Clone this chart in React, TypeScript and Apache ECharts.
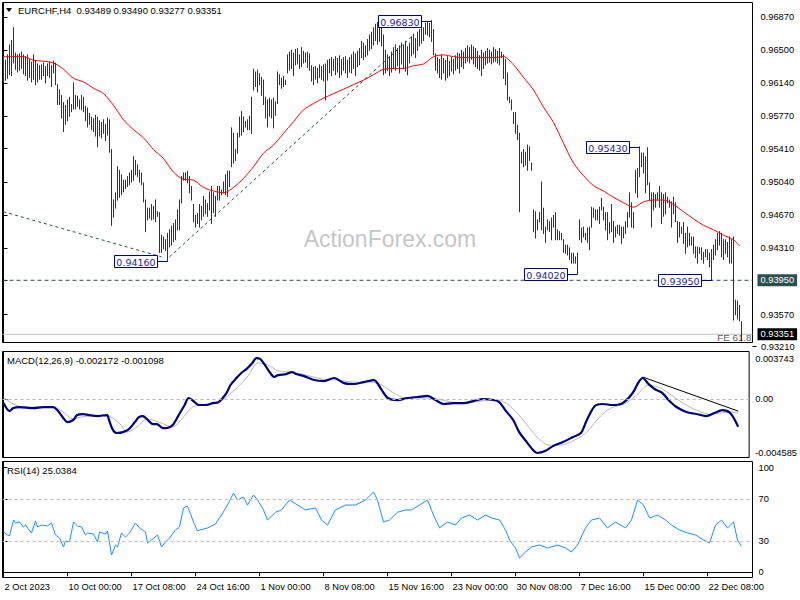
import React, { useEffect, useRef } from 'react';
import * as echarts from 'echarts';

// ---- price bars (pips, 1 pip = 0.0001) : high / low per H4 bar ----
const highs = [
  9643,9639,9645,9656,9661,9675,9647,9645,9646,9648,
  9645,9643,9645,9640,9637,9645,9638,9635,9633,9634,
  9636,9632,9635,9637,9633,9638,9636,9612,9606,9600,
  9592,9589,9595,9598,9590,9614,9600,9599,9595,9600,
  9598,9588,9586,9580,9576,9574,9578,9576,9572,9570,
  9573,9568,9575,9573,9540,9484,9492,9521,9517,9512,
  9506,9506,9510,9514,9517,9532,9528,9523,9517,9514,
  9503,9484,9475,9475,9479,9477,9484,9471,9470,9445,
  9443,9440,9447,9451,9455,9458,9462,9473,9484,9510,
  9514,9514,9516,9510,9499,9479,9467,9469,9479,9477,
  9488,9484,9480,9493,9499,9492,9488,9499,9499,9495,
  9504,9512,9516,9516,9564,9558,9540,9558,9576,9582,
  9576,9571,9573,9577,9598,9629,9626,9628,9624,9620,
  9617,9598,9595,9597,9595,9597,9593,9626,9623,9619,
  9621,9617,9645,9648,9650,9647,9651,9652,9645,9653,
  9649,9647,9648,9646,9633,9631,9632,9630,9634,9632,
  9634,9635,9639,9640,9642,9640,9643,9641,9644,9640,
  9642,9643,9639,9642,9645,9648,9646,9649,9652,9660,
  9658,9655,9662,9667,9670,9675,9679,9681,9678,9676,
  9667,9650,9645,9643,9648,9653,9656,9652,9655,9658,
  9656,9660,9654,9658,9665,9668,9663,9670,9673,9678,
  9675,9680,9682,9680,9683,9673,9646,9642,9640,9645,
  9641,9639,9643,9638,9642,9640,9644,9647,9646,9650,
  9648,9652,9655,9653,9656,9654,9652,9649,9644,9650,
  9647,9649,9652,9650,9648,9653,9651,9649,9652,9648,
  9645,9640,9625,9598,9595,9581,9581,9567,9558,9537,
  9540,9537,9545,9543,9525,9473,9471,9462,9470,9504,
  9475,9454,9462,9460,9464,9467,9470,9451,9449,9447,
  9440,9434,9434,9431,9425,9425,9421,9425,9462,9453,
  9454,9447,9453,9454,9476,9475,9473,9473,9476,9486,
  9476,9470,9470,9459,9479,9460,9454,9456,9456,9454,
  9454,9460,9470,9492,9481,9470,9517,9519,9543,9536,
  9536,9532,9542,9503,9492,9492,9490,9492,9499,9492,
  9490,9492,9487,9484,9482,9487,9481,9460,9459,9454,
  9459,9447,9454,9447,9443,9443,9432,9432,9431,9431,
  9426,9429,9429,9425,9429,9434,9440,9447,9449,9447,
  9440,9440,9437,9443,9440,9443,9373,9372,9367,9349,
];
const lows = [
  9615,9617,9619,9623,9622,9636,9629,9626,9628,9630,
  9624,9622,9617,9620,9615,9618,9612,9615,9618,9618,
  9622,9614,9622,9620,9610,9625,9612,9590,9590,9575,
  9560,9568,9572,9577,9582,9585,9585,9588,9585,9584,
  9582,9572,9565,9568,9562,9560,9555,9543,9555,9553,
  9558,9550,9556,9537,9456,9465,9475,9484,9487,9490,
  9493,9497,9499,9501,9504,9506,9512,9510,9504,9501,
  9482,9449,9462,9464,9462,9463,9460,9466,9426,9426,
  9430,9428,9416,9432,9434,9438,9440,9451,9451,9481,
  9506,9506,9503,9492,9484,9460,9454,9458,9454,9462,
  9466,9469,9466,9473,9458,9470,9466,9484,9484,9490,
  9492,9490,9488,9499,9521,9525,9528,9536,9554,9556,
  9560,9565,9562,9562,9558,9606,9610,9604,9612,9600,
  9590,9575,9565,9577,9575,9564,9578,9591,9612,9608,
  9610,9612,9625,9628,9630,9622,9634,9635,9630,9632,
  9636,9637,9631,9628,9616,9612,9618,9614,9620,9618,
  9616,9595,9617,9625,9622,9628,9623,9626,9620,9623,
  9628,9625,9620,9626,9625,9630,9622,9632,9634,9642,
  9640,9643,9645,9650,9652,9656,9661,9657,9660,9655,
  9623,9625,9628,9622,9626,9630,9628,9633,9625,9635,
  9630,9627,9623,9636,9644,9646,9642,9650,9655,9658,
  9661,9668,9667,9665,9660,9645,9628,9625,9620,9618,
  9625,9617,9620,9622,9627,9624,9628,9630,9625,9632,
  9630,9636,9638,9636,9640,9635,9632,9630,9628,9622,
  9630,9634,9636,9637,9635,9637,9638,9636,9634,9642,
  9619,9612,9595,9592,9584,9569,9558,9551,9471,9525,
  9521,9523,9517,9528,9517,9449,9442,9451,9460,9451,
  9447,9437,9451,9449,9440,9454,9440,9440,9440,9440,
  9426,9425,9423,9418,9414,9414,9414,9402,9440,9437,
  9443,9440,9437,9429,9454,9465,9462,9462,9458,9473,
  9462,9451,9440,9447,9449,9437,9443,9447,9445,9436,
  9442,9447,9454,9465,9454,9453,9492,9487,9510,9521,
  9514,9492,9501,9484,9454,9473,9476,9484,9476,9458,
  9466,9469,9481,9476,9454,9469,9460,9437,9443,9447,
  9436,9425,9432,9434,9434,9425,9420,9414,9425,9418,
  9414,9421,9418,9410,9395,9418,9423,9429,9434,9421,
  9418,9425,9421,9414,9414,9351,9357,9352,9350,9328,
];

// ---- moving average [bar index, pips] ----
const maLine = [
  [0,9643],[5,9643],[10,9643],[15,9639],[20,9638],[25,9636],[30,9629],[35,9619],[40,9615],[45,9608],
  [50,9602],[55,9589],[60,9573],[65,9562],[70,9553],[75,9540],[80,9530],[85,9515],[90,9507],[95,9506],
  [100,9498],[105,9494],[110,9492],[115,9498],[120,9508],[125,9521],[130,9536],[135,9545],[140,9558],[145,9571],
  [150,9584],[155,9591],[160,9597],[165,9602],[170,9607],[175,9612],[180,9617],[185,9623],[190,9629],[195,9630],
  [200,9630],[205,9633],[210,9635],[215,9643],[220,9645],[225,9643],[230,9642],[235,9642],[240,9642],[245,9642],
  [250,9643],[255,9634],[260,9620],[265,9606],[270,9587],[275,9570],[280,9547],[285,9525],[290,9511],[295,9500],
  [300,9494],[305,9487],[310,9481],[315,9476],[320,9482],[325,9484],[330,9484],[335,9479],[340,9471],[345,9463],
  [350,9456],[355,9451],[360,9445],[365,9440],[368,9433],
];

// ---- trend lines [bar index, pips] ----
const trendDown = [[0, 9471], [79, 9421]];
const trendUp = [[83, 9421], [205, 9667]];

// ---- labelled swing points ----
const markerIdx = [214, 82, 318, 287, 354];
const markerPrice = [0.9683, 0.9416, 0.9543, 0.9402, 0.9395];

// ---- MACD / signal [bar index, value] ----
const macdLine = [
  [0,-0.00031],[3,-0.00093],[5,-0.00070],[8,-0.00062],[15,-0.00070],[20,-0.00062],[25,-0.00062],[27,-0.00086],
  [30,-0.00148],[32,-0.00180],[35,-0.00164],[37,-0.00125],[40,-0.00117],[43,-0.00125],[47,-0.00133],[52,-0.00125],
  [53,-0.00164],[55,-0.00243],[57,-0.00266],[60,-0.00259],[63,-0.00235],[66,-0.00180],[68,-0.00141],[70,-0.00133],
  [72,-0.00156],[75,-0.00196],[77,-0.00196],[80,-0.00227],[82,-0.00227],[85,-0.00203],[88,-0.00125],[91,-0.00046],
  [93,0.00009],[96,-0.00023],[98,-0.00046],[102,-0.00046],[105,-0.00031],[108,-0.00023],[112,0.00048],[114,0.00111],
  [117,0.00166],[120,0.00213],[122,0.00236],[125,0.00284],[127,0.00323],[129,0.00315],[132,0.00252],[134,0.00205],
  [136,0.00174],[138,0.00189],[142,0.00197],[145,0.00213],[147,0.00197],[151,0.00181],[156,0.00150],[161,0.00142],
  [166,0.00166],[171,0.00126],[176,0.00119],[181,0.00134],[186,0.00150],[190,0.00071],[193,0.00009],[198,-0.00007],
  [203,0.00009],[208,0.00017],[213,0.00025],[217,-0.00007],[221,-0.00038],[226,-0.00031],[231,-0.00031],[236,-0.00015],
  [241,0.00001],[246,-0.00007],[249,-0.00023],[252,-0.00086],[256,-0.00164],[259,-0.00259],[262,-0.00321],[266,-0.00400],
  [268,-0.00423],[272,-0.00408],[276,-0.00369],[281,-0.00337],[286,-0.00298],[290,-0.00266],[293,-0.00164],[297,-0.00054],
  [301,-0.00038],[306,-0.00046],[311,-0.00031],[316,0.00048],[319,0.00134],[321,0.00166],[324,0.00119],[327,0.00080],
  [331,0.00048],[334,-0.00007],[338,-0.00062],[343,-0.00101],[348,-0.00117],[353,-0.00133],[357,-0.00109],[361,-0.00086],
  [365,-0.00109],[369,-0.00217],
];
const signalLine = [
  [0,0.00017],[4,-0.00031],[10,-0.00062],[25,-0.00062],[30,-0.00101],[35,-0.00156],[39,-0.00141],[50,-0.00125],
  [54,-0.00141],[59,-0.00203],[62,-0.00259],[67,-0.00219],[72,-0.00156],[78,-0.00180],[85,-0.00219],[90,-0.00148],
  [95,-0.00062],[102,-0.00038],[108,-0.00023],[115,0.00056],[122,0.00166],[128,0.00284],[133,0.00268],[138,0.00221],
  [145,0.00213],[152,0.00189],[160,0.00158],[168,0.00150],[176,0.00134],[184,0.00134],[190,0.00111],[196,0.00048],
  [202,0.00009],[210,0.00009],[218,0.00001],[225,-0.00023],[232,-0.00031],[240,-0.00015],[248,-0.00007],[253,-0.00038],
  [258,-0.00109],[263,-0.00203],[268,-0.00298],[274,-0.00361],[280,-0.00361],[287,-0.00321],[293,-0.00259],[299,-0.00148],
  [305,-0.00070],[312,-0.00038],[318,0.00032],[324,0.00111],[330,0.00087],[336,0.00025],[342,-0.00038],[348,-0.00086],
  [354,-0.00117],[360,-0.00109],[366,-0.00101],[369,-0.00110],
];
const macdTrend = [[321, 0.00174], [369, -0.00094]];

// ---- RSI [bar index, value] ----
const rsiLine = [
  [0,38.5],[2,35.7],[3,34.7],[5,50.0],[6,47.1],[8,48.1],[10,43.3],[11,45.2],[12,42.4],[14,37.6],
  [16,49.0],[17,43.3],[19,45.2],[22,44.3],[24,47.1],[26,35.7],[28,32.8],[30,24.2],[31,29.9],[33,29.0],
  [35,48.1],[37,44.3],[39,43.3],[41,35.7],[42,37.6],[45,36.6],[47,29.0],[48,38.5],[51,36.6],[52,39.5],
  [54,16.5],[56,26.1],[57,24.2],[59,37.6],[61,33.7],[63,37.6],[66,47.1],[68,42.4],[71,38.5],[72,28.0],
  [74,30.9],[77,35.7],[79,24.2],[81,29.0],[83,32.8],[86,40.4],[88,43.3],[90,61.5],[92,63.4],[95,48.1],
  [97,39.5],[98,40.4],[102,42.4],[106,46.2],[109,54.8],[112,64.3],[115,75.8],[117,69.1],[120,72.0],[122,64.3],
  [125,73.9],[127,69.1],[130,59.6],[132,50.0],[136,57.4],[139,59.6],[143,69.1],[147,64.3],[151,59.6],[156,61.5],
  [159,50.0],[162,45.2],[166,59.6],[171,64.3],[176,64.3],[181,69.1],[185,76.8],[187,69.1],[190,48.1],[193,50.0],
  [197,57.4],[201,59.6],[204,59.6],[208,64.3],[212,69.1],[215,54.8],[218,42.4],[222,48.1],[226,45.2],[229,51.9],
  [233,54.8],[237,50.0],[241,54.8],[244,51.9],[248,50.0],[251,40.4],[253,30.9],[256,23.2],[258,13.7],[261,19.4],
  [264,24.2],[268,26.1],[272,23.2],[277,26.1],[281,23.2],[284,19.4],[287,26.1],[291,42.4],[294,50.0],[298,51.9],
  [302,42.4],[306,48.1],[311,42.4],[314,50.0],[317,69.1],[320,64.3],[323,51.9],[327,54.8],[331,50.0],[334,45.2],
  [338,40.4],[342,37.6],[346,35.7],[350,30.9],[353,28.0],[356,45.2],[359,50.0],[362,42.4],[365,48.1],[367,30.9],
  [369,25.0],
];

// ---- axis ticks / labels ----
const priceTicks = [0.9687, 0.965, 0.9614, 0.9577, 0.9541, 0.9504, 0.9467, 0.9431, 0.9395, 0.9357];
const macdTicks = [-0.004585, 0, 0.003743];
const rsiTicks = [0, 30, 70, 100];
const rsiLevels = [70, 30];
const timeTickIdx = [0, 32, 64, 96, 128, 160, 192, 224, 256, 288, 320, 352];
const timeLabels = [
  '2 Oct 2023', '10 Oct 00:00', '17 Oct 08:00', '24 Oct 16:00', '1 Nov 00:00', '8 Nov 08:00',
  '15 Nov 16:00', '23 Nov 00:00', '30 Nov 08:00', '7 Dec 16:00', '15 Dec 00:00', '22 Dec 08:00',
];
const header = 'EURCHF,H4  0.93489 0.93490 0.93277 0.93351';
const macdTitle = 'MACD(12,26,9) -0.002172 -0.001098';
const rsiTitle = 'RSI(14) 25.0384';
const supportLevel = 0.9395;
const lastPrice = 0.93351;
const feLabel = 'FE 61.8';
const lowestTick = 0.9321;
const X_MIN = -0.5, X_MAX = 374.5;

const FONT = '"Liberation Sans", Arial, sans-serif';
const FS = 9.3;
const P = (v: number) => v / 10000;

export default function App() {
  const ref = useRef<HTMLDivElement>(null);
  useEffect(() => {
    const chart = echarts.init(ref.current!, null, { renderer: 'svg' });
    const GL = 2.5, GW = 750;
    const xBase = { type: 'value', min: X_MIN, max: X_MAX, show: false };
    const option: any = {
      animation: false,
      backgroundColor: '#ffffff',
      grid: [
        { left: GL, top: 2.5, width: GW, height: 340, show: true, borderColor: '#000', borderWidth: 1 },
        { left: GL, top: 351.5, width: GW, height: 106, show: true, borderColor: '#000', borderWidth: 1 },
        { left: GL, top: 461.5, width: GW, height: 116, show: true, borderColor: '#000', borderWidth: 1 },
      ],
      xAxis: [
        { ...xBase, gridIndex: 0 },
        { ...xBase, gridIndex: 1 },
        {
          type: 'value', gridIndex: 2, min: X_MIN, max: X_MAX,
          axisLine: { show: true, lineStyle: { color: '#000', width: 1 } },
          axisTick: { show: true, customValues: timeTickIdx, length: 4, lineStyle: { color: '#000' } },
          axisLabel: {
            customValues: timeTickIdx, align: 'left', margin: 5, color: '#000',
            fontFamily: FONT, fontSize: FS, padding: [0, 0, 0, 1],
            formatter: (v: number) => timeLabels[timeTickIdx.indexOf(Math.round(v))] ?? '',
          },
          splitLine: { show: false },
        },
      ],
      yAxis: [
        {
          type: 'value', gridIndex: 0, position: 'right', min: 0.9326, max: 0.97031,
          axisLine: { show: true, lineStyle: { color: '#000' } },
          axisTick: { show: true, customValues: priceTicks, length: 4, lineStyle: { color: '#000' } },
          axisLabel: { customValues: priceTicks, margin: 8, color: '#000', fontFamily: FONT, fontSize: FS,
            formatter: (v: number) => v.toFixed(5) },
          splitLine: { show: false },
        },
        {
          type: 'value', gridIndex: 1, position: 'right', min: -0.004585, max: 0.003743,
          axisLine: { show: true, lineStyle: { color: '#000' } },
          axisTick: { show: true, customValues: macdTicks, length: 4, lineStyle: { color: '#000' } },
          axisLabel: { customValues: macdTicks, margin: 6, color: '#000', fontFamily: FONT, fontSize: FS,
            verticalAlignMinLabel: 'bottom', verticalAlignMaxLabel: 'top',
            formatter: (v: number) => (Math.abs(v) < 1e-9 ? '0.00' : v > 0 ? '{t|' + v.toFixed(6) + '}' : v.toFixed(6)),
            rich: { t: { padding: [3, 0, 0, 0], fontFamily: FONT, fontSize: FS, color: '#000' } } },
          splitLine: { show: false },
        },
        {
          type: 'value', gridIndex: 2, position: 'right', min: -4.97, max: 105.93,
          axisLine: { show: true, lineStyle: { color: '#000' } },
          axisTick: { show: true, customValues: rsiTicks, length: 4, lineStyle: { color: '#000' } },
          axisLabel: { customValues: rsiTicks, margin: 6, color: '#000', fontFamily: FONT, fontSize: FS,
            formatter: (v: number) => String(Math.round(v)) },
          splitLine: { show: false },
        },
      ],
      series: [
        {
          type: 'custom', name: 'bars', xAxisIndex: 0, yAxisIndex: 0, z: 3,
          data: highs.map((h, i) => [i, P(lows[i]), P(h)]),
          encode: { x: 0, y: [1, 2] },
          renderItem: (params: any, api: any) => {
            const i = api.value(0);
            const lo = api.coord([i, api.value(1)]);
            const hi = api.coord([i, api.value(2)]);
            return {
              type: 'line',
              shape: { x1: lo[0], y1: lo[1] + 0.5, x2: hi[0], y2: hi[1] - 0.5 },
              style: { stroke: '#163A5C', lineWidth: 1 },
            };
          },
        },
        {
          type: 'line', name: 'ma', xAxisIndex: 0, yAxisIndex: 0, z: 4,
          data: maLine.map(([i, v]) => [i, P(v)]), smooth: 0.3, showSymbol: false, symbol: 'none',
          lineStyle: { color: '#FF0000', width: 1 },
        },
        {
          type: 'line', name: 'support', xAxisIndex: 0, yAxisIndex: 0, z: 2,
          data: [[X_MIN, supportLevel], [X_MAX, supportLevel]], symbol: 'none',
          lineStyle: { color: '#2F4F4F', type: [4, 3], width: 1 },
          endLabel: { show: true, distance: 5, formatter: () => supportLevel.toFixed(5),
            backgroundColor: '#2F4F4F', color: '#ffffff', padding: [2, 3, 1, 3],
            fontFamily: FONT, fontSize: FS },
        },
        {
          type: 'line', name: 'last', xAxisIndex: 0, yAxisIndex: 0, z: 1,
          data: [[X_MIN, lastPrice], [X_MAX, lastPrice]], symbol: 'none',
          lineStyle: { color: '#C0C0C0', type: 'solid', width: 1 },
          endLabel: { show: true, distance: 5, formatter: () => lastPrice.toFixed(5),
            backgroundColor: '#000000', color: '#ffffff', padding: [2, 3, 1, 3],
            fontFamily: FONT, fontSize: FS },
        },
        {
          type: 'line', name: 'trendDown', xAxisIndex: 0, yAxisIndex: 0, z: 2,
          data: trendDown.map(([i, v]) => [i, P(v)]), symbol: 'none',
          lineStyle: { color: '#2F4F4F', width: 1, type: [3, 3] },
        },
        {
          type: 'line', name: 'trendUp', xAxisIndex: 0, yAxisIndex: 0, z: 2,
          data: trendUp.map(([i, v]) => [i, P(v)]), symbol: 'none',
          lineStyle: { color: '#2F4F4F', width: 1, type: [3, 3] },
        },
        {
          type: 'custom', name: 'markers', xAxisIndex: 0, yAxisIndex: 0, z: 6,
          data: markerIdx.map((i, k) => [i, markerPrice[k]]),
          encode: { x: 0, y: 1 },
          renderItem: (params: any, api: any) => {
            const price = api.value(1);
            const p = api.coord([api.value(0), price]);
            const right = p[0] - 10;
            const w = 43, h = 12;
            const cy = Math.round(p[1]) + 0.5;
            return {
              type: 'group',
              children: [
                { type: 'line', shape: { x1: right, y1: cy, x2: p[0], y2: cy }, style: { stroke: '#000080', lineWidth: 1 } },
                { type: 'rect', shape: { x: right - w, y: cy - 6, width: w, height: h }, style: { fill: '#ffffff', stroke: '#000080', lineWidth: 1 } },
                { type: 'text', style: { text: price.toFixed(5), x: right - w / 2, y: cy + 0.5, align: 'center', verticalAlign: 'middle',
                  fill: '#1F22A8', fontFamily: '"DejaVu Sans", sans-serif', fontSize: 9.5 } },
              ],
            };
          },
        },
        {
          type: 'custom', name: 'feLabel', xAxisIndex: 0, yAxisIndex: 0, z: 2, clip: false,
          data: [[X_MAX, lastPrice]],
          encode: { x: 0, y: 1 },
          renderItem: (params: any, api: any) => {
            const p = api.coord([api.value(0), api.value(1)]);
            return {
              type: 'text',
              style: { text: feLabel, x: p[0] - 1, y: p[1] + 3, align: 'right', verticalAlign: 'middle',
                fill: '#606060', fontFamily: FONT, fontSize: FS + 0.5 },
            };
          },
        },
        {
          type: 'line', name: 'macd', xAxisIndex: 1, yAxisIndex: 1, z: 4,
          data: macdLine, smooth: 0.3, symbol: 'none',
          lineStyle: { color: '#000080', width: 2.2 },
        },
        {
          type: 'line', name: 'signal', xAxisIndex: 1, yAxisIndex: 1, z: 3,
          data: signalLine, smooth: 0.3, symbol: 'none',
          lineStyle: { color: '#B8B8B8', width: 1 },
          markLine: {
            silent: true, symbol: 'none', animation: false, label: { show: false },
            lineStyle: { color: '#B8B8B8', type: [3, 3], width: 1 },
            data: [{ yAxis: 0 }],
          },
        },
        {
          type: 'line', name: 'macdTrend', xAxisIndex: 1, yAxisIndex: 1, z: 5,
          data: macdTrend, symbol: 'none',
          lineStyle: { color: '#000000', width: 1 },
        },
        {
          type: 'line', name: 'rsi', xAxisIndex: 2, yAxisIndex: 2, z: 4,
          data: rsiLine, symbol: 'none',
          lineStyle: { color: '#1E90FF', width: 1 },
          markLine: {
            silent: true, symbol: 'none', animation: false, label: { show: false },
            lineStyle: { color: '#C0C0C0', type: [3, 3], width: 1 },
            data: rsiLevels.map((v) => ({ yAxis: v })),
          },
        },
      ],
      graphic: [
        { type: 'text', z: 0, x: 390, y: 239,
          style: { text: 'ActionForex.com', align: 'center', verticalAlign: 'middle', fill: '#C6C6C6',
            fontFamily: FONT, fontSize: 23 } },
        { type: 'polygon', shape: { points: [[6, 8], [12, 8], [9, 12]] }, style: { fill: '#000' } },
        { type: 'text', x: 18, y: 10.5,
          style: { text: header, verticalAlign: 'middle', fill: '#000', fontFamily: FONT, fontSize: 9.5 } },
        { type: 'text', x: 7, y: 360.5,
          style: { text: macdTitle, verticalAlign: 'middle', fill: '#000', fontFamily: FONT, fontSize: 9.5 } },
        { type: 'text', x: 7, y: 470,
          style: { text: rsiTitle, verticalAlign: 'middle', fill: '#000', fontFamily: FONT, fontSize: 9.5 } },
        { type: 'line', shape: { x1: 752.5, y1: 346.5, x2: 756.5, y2: 346.5 }, style: { stroke: '#000', lineWidth: 1 } },
        { type: 'text', x: 761, y: 346.5,
          style: { text: lowestTick.toFixed(5), verticalAlign: 'middle', fill: '#000', fontFamily: FONT, fontSize: FS } },
      ],
    };
    chart.setOption(option);
    return () => chart.dispose();
  }, []);
  return (
    <div
      ref={ref}
      style={{ position: 'fixed', left: 0, top: 0, width: 800, height: 600, background: '#fff' }}
    />
  );
}
